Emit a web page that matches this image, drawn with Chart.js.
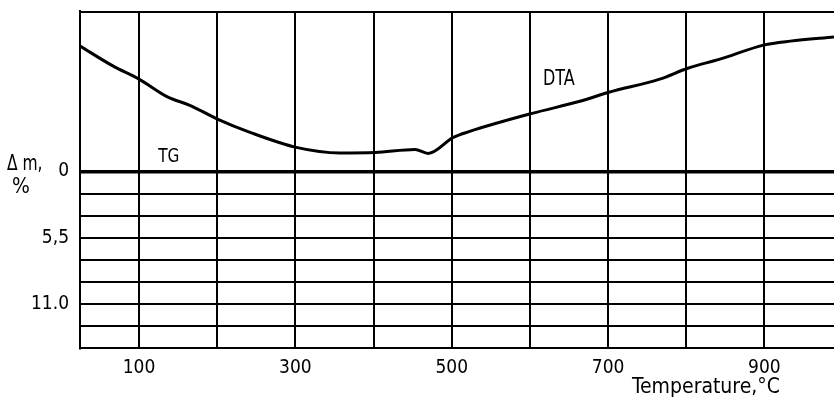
<!DOCTYPE html>
<html>
<head>
<meta charset="utf-8">
<script src="https://cdn.jsdelivr.net/npm/chart.js@4/dist/chart.umd.min.js"></script>
<style>
  html, body { margin: 0; padding: 0; background: #fff; }
  #wrap { width: 834px; height: 400px; position: relative; }
</style>
</head>
<body>
<div id="wrap"><canvas id="c" width="834" height="400"></canvas></div>
<script>
// Temperature (°C) of curve points and curve level (in Δm-axis units, negative = above the 0 line)
const temperatures = [24.5, 67, 100, 137, 165, 201, 242, 301, 357, 402, 453, 470, 502, 523, 603, 664, 701, 766, 802, 843, 899, 933, 989];
const curveValues  = [-10.42, -8.75, -7.67, -6.17, -5.5, -4.33, -3.25, -2.0, -1.54, -1.58, -1.83, -1.5, -2.83, -3.33, -4.83, -5.83, -6.58, -7.67, -8.58, -9.33, -10.5, -10.83, -11.17];

// X axis grid / ticks
const xGridValues = [100, 200, 300, 400, 500, 600, 700, 800, 900];
const xTickLabels = ['100', '', '300', '', '500', '', '700', '', '900'];
const xMin = 24.5, xMax = 989;

// Y axis (Δm, %) grid / ticks
const yGridValues = [0, 1.833, 3.667, 5.5, 7.333, 9.167, 11.0, 12.833, 14.667];
const yTickLabels = ['0', '', '', '5,5', '', '', '11.0', '', ''];
const yMin = -13.333, yMax = 14.667;

// Curve labels
const curveLabels = [
  { text: 'TG',  x: 138, y: -1.25, size: 20 },
  { text: 'DTA', x: 637, y: -7.6, size: 21 }
];
const yAxisTitle = ['Δ m,', '%'];
const xAxisTitle = 'Temperature,°C';

const FONT = '"DejaVu Sans Condensed", "Liberation Sans Narrow", "DejaVu Sans", sans-serif';

function drawText(ctx, text, x, y, size, sx, align) {
  ctx.save();
  ctx.font = size + 'px ' + FONT;
  ctx.textAlign = align;
  ctx.textBaseline = 'middle';
  ctx.translate(x, y);
  ctx.scale(sx, 1);
  ctx.fillText(text, 0, 0);
  ctx.restore();
}

const textPlugin = {
  id: 'textPlugin',
  afterDraw(chart) {
    const { ctx, chartArea, scales } = chart;
    ctx.save();
    ctx.fillStyle = '#000';
    ctx.strokeStyle = '#000';
    // top frame line
    ctx.lineWidth = 2;
    ctx.beginPath();
    ctx.moveTo(chartArea.left, chartArea.top + 1);
    ctx.lineTo(chartArea.right, chartArea.top + 1);
    ctx.stroke();
    curveLabels.forEach(l => {
      drawText(ctx, l.text, scales.x.getPixelForValue(l.x), scales.y.getPixelForValue(l.y), l.size, 0.85, 'center');
    });
    // y axis title
    drawText(ctx, yAxisTitle[0], 7, 165, 21, 0.82, 'left');
    drawText(ctx, yAxisTitle[1], 12, 187, 22, 0.95, 'left');
    // x axis title
    drawText(ctx, xAxisTitle, 632, 388, 21, 1, 'left');
    ctx.restore();
  }
};

new Chart(document.getElementById('c'), {
  type: 'line',
  data: {
    datasets: [{
      data: temperatures.map((t, i) => ({ x: t, y: curveValues[i] })),
      borderColor: '#000',
      borderWidth: 3,
      pointRadius: 0,
      fill: false,
      cubicInterpolationMode: 'monotone'
    }]
  },
  options: {
    responsive: false,
    animation: false,
    devicePixelRatio: 1,
    layout: { padding: { top: 11, right: 0, bottom: 0, left: 0 } },
    plugins: { legend: { display: false }, tooltip: { enabled: false } },
    scales: {
      x: {
        type: 'linear',
        min: xMin, max: xMax,
        afterBuildTicks(scale) { scale.ticks = xGridValues.map(v => ({ value: v })); },
        afterFit(scale) { scale.height = 52; scale.paddingLeft = 0; scale.paddingRight = 0; },
        grid: { color: '#000', lineWidth: 2, drawTicks: false },
        border: { display: true, color: '#000', width: 2 },
        ticks: {
          color: '#000',
          font: { size: 19, family: FONT },
          padding: 9,
          maxRotation: 0,
          autoSkip: false,
          callback: (v, i) => xTickLabels[i]
        }
      },
      y: {
        type: 'linear',
        reverse: true,
        min: yMin, max: yMax,
        afterBuildTicks(scale) { scale.ticks = yGridValues.map(v => ({ value: v })); },
        afterFit(scale) { scale.width = 80; scale.paddingTop = 0; scale.paddingBottom = 0; },
        grid: {
          color: '#000',
          lineWidth: c => (c.tick && c.tick.value === 0) ? 3.5 : 2,
          drawTicks: false
        },
        border: { display: true, color: '#000', width: 2 },
        ticks: {
          color: '#000',
          font: { size: 19, family: FONT },
          padding: 11,
          autoSkip: false,
          callback: (v, i) => yTickLabels[i]
        }
      }
    }
  },
  plugins: [textPlugin]
});
</script>
</body>
</html>
